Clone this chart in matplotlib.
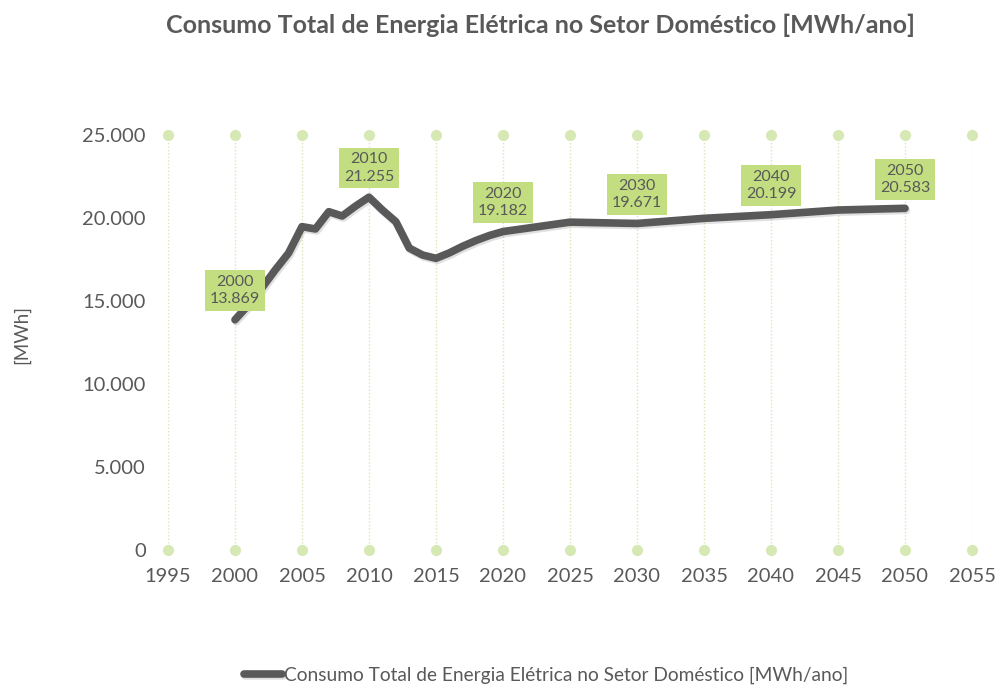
import matplotlib.pyplot as plt
import matplotlib.patheffects as pe

# data
anos = [2000, 2001, 2002, 2003, 2004, 2005, 2006, 2007, 2008, 2009, 2010,
        2011, 2012, 2013, 2014, 2015, 2016, 2017, 2018, 2019, 2020,
        2025, 2030, 2035, 2040, 2045, 2050]
consumo = [13869, 14760, 15780, 16870, 17890, 19480, 19340, 20380, 20120, 20720, 21255,
           20480, 19780, 18190, 17770, 17570, 17900, 18300, 18650, 18950, 19182,
           19750, 19671, 19980, 20199, 20480, 20583]
anos_rotulo = [2000, 2010, 2020, 2030, 2040, 2050]
x_ticks = list(range(1995, 2060, 5))
y_ticks = [0, 5000, 10000, 15000, 20000, 25000]

cor_texto = "#595959"
cor_linha = "#595959"
cor_grade = "#d6e8b3"
cor_caixa = "#c2de80"

plt.rcParams['font.family'] = ['Lato', 'DejaVu Sans']

fig = plt.figure(figsize=(9.99, 6.86), dpi=100)
ax = fig.add_axes([168 / 999, 136 / 686, 804 / 999, 415 / 686])

# vertical dotted gridlines with dots at both ends
for x in x_ticks:
    ax.plot([x, x], [0, 25000], color=cor_grade, lw=1, ls=(0, (1, 1.5)), zorder=1)
    ax.plot([x, x], [0, 25000], ls='none', marker='o', ms=7, color=cor_grade,
            clip_on=False, zorder=1)

linha, = ax.plot(anos, consumo, color=cor_linha, lw=5.5, solid_capstyle='round',
                 solid_joinstyle='round', zorder=3,
                 path_effects=[pe.SimpleLineShadow(offset=(1, -1.5), alpha=0.18, shadow_color='#555555'),
                               pe.Normal()])

for ano in anos_rotulo:
    v = consumo[anos.index(ano)]
    ax.annotate(f"{ano}\n{v:,}".replace(",", "."), xy=(ano, v), xytext=(0, 21),
                textcoords='offset points', ha='center', va='center',
                fontsize=11.5, color=cor_texto, linespacing=1.3, zorder=4,
                bbox=dict(boxstyle='square,pad=0.3', fc=cor_caixa, ec='none'))

ax.set_xlim(1995, 2055)
ax.set_ylim(0, 25000)
ax.set_xticks(x_ticks)
ax.set_yticks(y_ticks)
ax.set_yticklabels([f"{v:,}".replace(",", ".") for v in y_ticks])
ax.tick_params(axis='both', length=0, labelsize=14.5, labelcolor=cor_texto)
ax.tick_params(axis='x', pad=13)
ax.tick_params(axis='y', pad=16)
for s in ax.spines.values():
    s.set_visible(False)

fig.text(22 / 999, 1 - 334 / 686, "[MWh]", rotation=90, ha='center', va='center',
         fontsize=13.5, color=cor_texto)
fig.text(541 / 999, 1 - 25 / 686, "Consumo Total de Energia Elétrica no Setor Doméstico [MWh/ano]",
         ha='center', va='center', fontsize=18, fontweight='bold', color=cor_texto)

fig.legend([linha], ["Consumo Total de Energia Elétrica no Setor Doméstico [MWh/ano]"],
           loc='center', bbox_to_anchor=(546 / 999, 1 - 675 / 686), frameon=False,
           fontsize=13.8, labelcolor=cor_texto, handlelength=2.0, handletextpad=0.1)

fig.savefig("out.png", dpi=100)
